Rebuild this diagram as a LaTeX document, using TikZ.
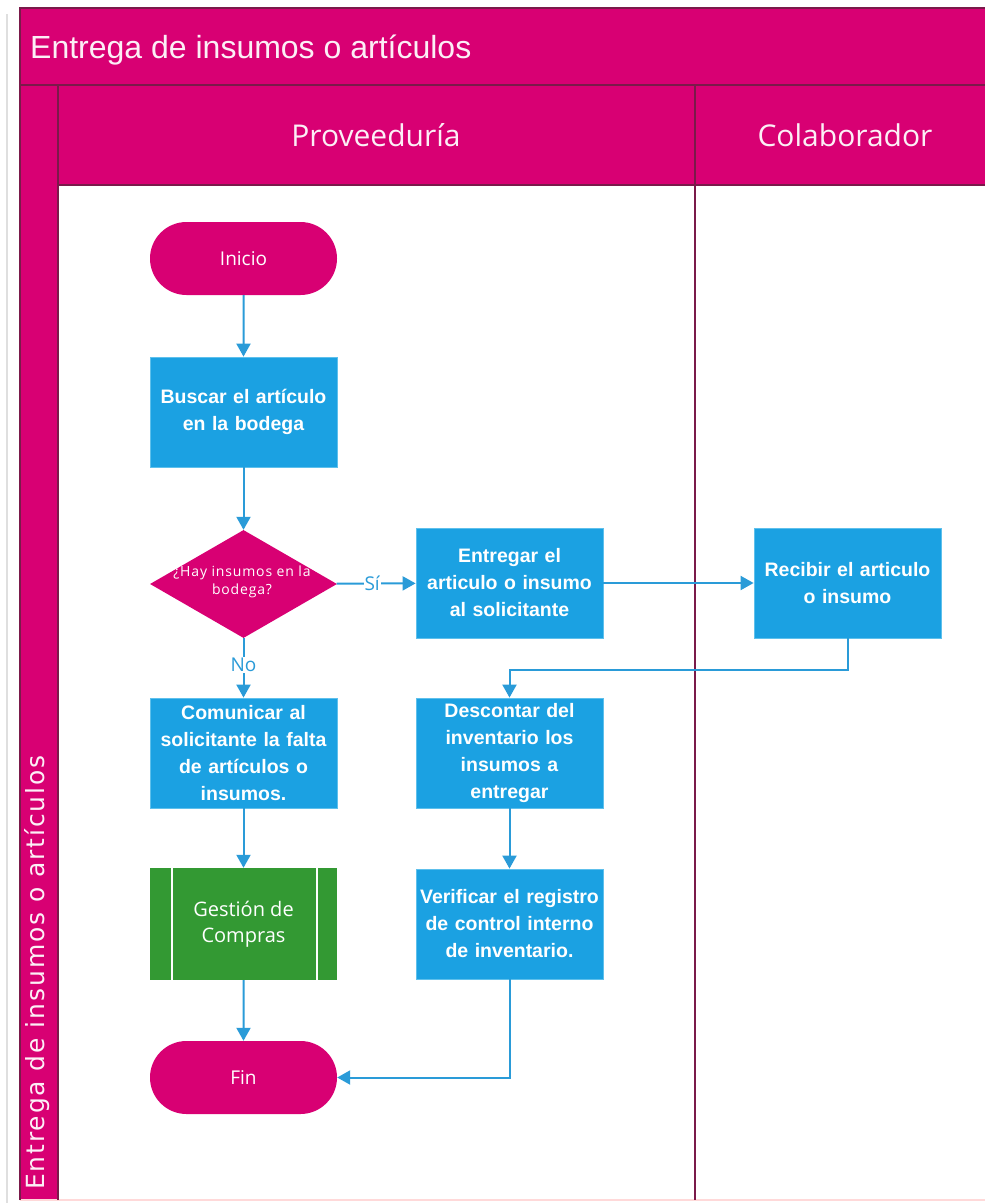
\documentclass[tikz,border=0pt]{standalone}
\usepackage{fontspec}
\setmainfont{Liberation Sans}
\newfontfamily\uifont{Open Sans}
\newfontfamily\bandfont[LetterSpace=7.5]{DejaVu Sans}
\newfontfamily\smallui[LetterSpace=6]{Open Sans}
\usetikzlibrary{arrows.meta,shapes.geometric,shapes.misc}
\definecolor{pool}{HTML}{D80073}
\definecolor{poolline}{HTML}{7A1A4A}
\definecolor{task}{HTML}{1BA1E2}
\definecolor{taskline}{HTML}{5EC0EC}
\definecolor{sub}{HTML}{339933}
\definecolor{flow}{HTML}{2A9BD8}
\definecolor{paleink}{HTML}{FCEFF6}
\begin{document}
\begin{tikzpicture}[x=1pt,y=-1pt,
  taskbox/.style={rectangle, fill=task, draw=taskline, line width=0.8pt,
    minimum width=187pt, minimum height=110pt, inner sep=0pt,
    text width=186pt, align=center, text=white,
    font=\bfseries\fontsize{19.5}{27}\selectfont},
  terminal/.style={rounded rectangle, fill=pool, draw=none,
    minimum width=187pt, minimum height=73pt, inner sep=0pt,
    text=white, font=\uifont\fontsize{19}{23}\selectfont},
  decision/.style={diamond, fill=pool, draw=none,
    minimum width=187pt, minimum height=108pt, inner sep=0pt},
  decisiontext/.style={align=center, text=white, inner sep=0pt,
    font=\smallui\fontsize{14}{18}\selectfont},
  subproc/.style={rectangle, fill=sub, draw=none,
    minimum width=187pt, minimum height=112pt, inner sep=0pt,
    align=center, text=white, font=\uifont\fontsize{20}{26}\selectfont},
  flowline/.style={draw=flow, line width=2pt,
    -{Triangle[length=13pt,width=14pt]}},
  flowlabel/.style={fill=white, text=flow, inner sep=1pt,
    font=\uifont\fontsize{19}{22}\selectfont},
  laneline/.style={draw=poolline, line width=1.4pt},
  lanetitle/.style={text=paleink, font=\uifont\fontsize{30}{34}\selectfont}]
\useasboundingbox (0,0) rectangle (985,1203);
\clip (0,0) rectangle (985,1203);

% page edge
\draw[gray!25, line width=1.5pt] (7,14) -- (7,1203);

% pool: title bar, side band and lane headers
\fill[pool] (20,8) rectangle (1000,185);
\fill[pool] (20,85) rectangle (58,1200);
\draw[pink!60, line width=1.5pt] (20,1200) -- (1000,1200);
\draw[laneline] (20,1200) -- (20,8) -- (1000,8);
\draw[laneline] (20,85) -- (1000,85);
\draw[laneline] (58,1200) -- (58,85);
\draw[laneline] (58,185) -- (1000,185);
\draw[laneline] (695,85) -- (695,1200);

\node[anchor=base west, inner sep=0pt, text=paleink, font=\fontsize{32}{36}\selectfont]
  (pooltitle) at (30,58) {Entrega de insumos o artículos};
\node[anchor=base west, inner sep=0pt, rotate=90, text=paleink, font=\bandfont\fontsize{25}{30}\selectfont]
  (bandtitle) at (45,1190) {Entrega de insumos o artículos};
\node[lanetitle] (lane1) at (376,135) {Proveeduría};
\node[lanetitle] (lane2) at (845,135) {Colaborador};

% flow objects
\node[terminal] (inicio) at (243.5,258.5) {Inicio};
\node[taskbox] (buscar) at (243.5,412) {Buscar el artículo\\en la bodega};
\node[decision] (dec) at (243.5,584) {};
\node[decisiontext] (dectext) at (242,582) {¿Hay insumos en la\\bodega?};
\node[taskbox] (entregar) at (509.5,583) {Entregar el\\articulo o insumo\\al solicitante};
\node[taskbox] (recibir) at (847.5,583) {Recibir el articulo\\o insumo};
\node[taskbox] (comunicar) at (243.5,753) {Comunicar al\\solicitante la falta\\de artículos o\\insumos.};
\node[taskbox] (descontar) at (509.5,753) {Descontar del\\inventario los\\insumos a\\entregar};
\node[subproc] (gestion) at (243.5,924) {Gestión de\\Compras};
\node[taskbox] (verificar) at (509.5,924) {Verificar el registro\\de control interno\\de inventario.};
\node[terminal] (fin) at (243.5,1077.5) {Fin};

% side bars of the subprocess
\draw[white, line width=1.5pt] ([xshift=22pt]gestion.north west) -- ([xshift=22pt]gestion.south west);
\draw[white, line width=1.5pt] ([xshift=-20pt]gestion.north east) -- ([xshift=-20pt]gestion.south east);

% connectors
\draw[flowline] (inicio) -- (buscar);
\draw[flowline] (buscar) -- (dec);
\draw[flowline] (dec) -- node[flowlabel, pos=0.45] {No} (comunicar);
\draw[flowline] (dec) -- node[flowlabel, pos=0.45] {Sí} (entregar);
\draw[flowline] (entregar) -- (recibir);
\draw[flowline] (recibir.south) -- ++(0,32) -| (descontar.north);
\draw[flowline] (descontar) -- (verificar);
\draw[flowline] (comunicar) -- (gestion);
\draw[flowline] (gestion) -- (fin);
\draw[flowline] (verificar.south) |- (fin.east);
\end{tikzpicture}
\end{document}
